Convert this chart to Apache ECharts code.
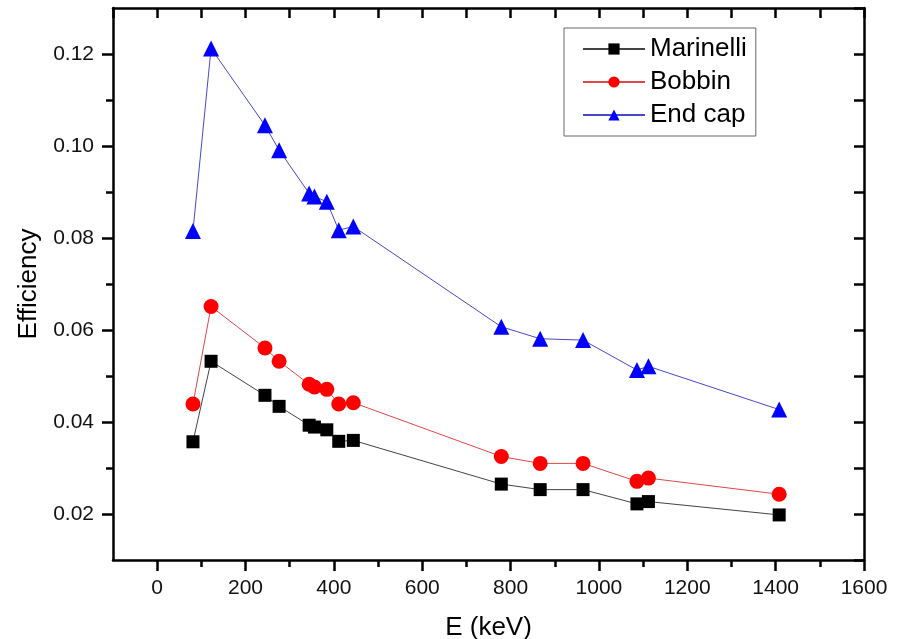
<!DOCTYPE html>
<html>
<head>
<meta charset="utf-8">
<script src="https://cdn.jsdelivr.net/npm/echarts@6/dist/echarts.min.js"></script>
<style>
  html, body { margin: 0; padding: 0; background: #fff; }
  #main { width: 900px; height: 639px; }
</style>
</head>
<body>
<div id="main"></div>
<script>
// energias de las lineas gamma (keV)
const energias = [81, 122, 244, 276, 344, 356, 384, 411, 444, 779, 867, 964, 1086, 1112, 1408];
const marinelli = [0.0357, 0.0532, 0.0458, 0.0434, 0.0393, 0.0389, 0.0383, 0.0358, 0.0360, 0.0265, 0.0253, 0.0253, 0.0222, 0.0227, 0.0198];
const bobbin = [0.0439, 0.0651, 0.0561, 0.0532, 0.0482, 0.0476, 0.0471, 0.0439, 0.0442, 0.0325, 0.0310, 0.0310, 0.0271, 0.0278, 0.0243];
const endCap = [0.0815, 0.1212, 0.1045, 0.0991, 0.0897, 0.0890, 0.0879, 0.0817, 0.0825, 0.0607, 0.0581, 0.0578, 0.0513, 0.0521, 0.0427];

const ticksX = [0, 200, 400, 600, 800, 1000, 1200, 1400, 1600];
const ticksXMenores = [100, 300, 500, 700, 900, 1100, 1300, 1500];
const ticksXTodos = [-100, 0, 100, 200, 300, 400, 500, 600, 700, 800, 900, 1000, 1100, 1200, 1300, 1400, 1500, 1600];
const ticksY = [0.02, 0.04, 0.06, 0.08, 0.10, 0.12];
const ticksYMenores = [0.03, 0.05, 0.07, 0.09, 0.11];
const ticksYTodos = [0.01, 0.02, 0.03, 0.04, 0.05, 0.06, 0.07, 0.08, 0.09, 0.10, 0.11, 0.12, 0.13];

const fuente = 'Liberation Sans, Arial, sans-serif';
const pares = (ys) => energias.map((e, i) => [e, ys[i]]);

const chart = echarts.init(document.getElementById('main'));

const lineaEje = { show: true, onZero: false, lineStyle: { color: '#000', width: 2.5 } };
const sinLinea = { show: false, onZero: false };

chart.setOption({
    animation: false,
    backgroundColor: '#fff',
    grid: { left: 113, right: 36, top: 8, bottom: 79, outerBoundsMode: 'none', containLabel: false },
    legend: {
        orient: 'vertical',
        left: 564,
        top: 28,
        padding: [8, 9, 8, 18],
        itemGap: 7,
        itemWidth: 62,
        itemHeight: 14,
        borderColor: '#666',
        borderWidth: 1,
        textStyle: { fontFamily: fuente, fontSize: 26, color: '#000' },
        data: ['Marinelli', 'Bobbin', 'End cap']
    },
    xAxis: [
        {
            type: 'value', position: 'bottom', offset: 0, min: -100, max: 1600,
            name: 'E (keV)', nameLocation: 'middle', nameGap: 55,
            nameTextStyle: { fontFamily: fuente, fontSize: 26, color: '#000' },
            axisLine: lineaEje,
            axisTick: { show: true, inside: false, length: 11, lineStyle: { color: '#000', width: 2.5 }, customValues: ticksX },
            axisLabel: { fontFamily: fuente, fontSize: 21, color: '#111', margin: 18, customValues: ticksX,
                formatter: v => String(v) },
            splitLine: { show: false }
        },
        {
            type: 'value', position: 'bottom', offset: 0, min: -100, max: 1600,
            axisLine: sinLinea,
            axisTick: { show: true, inside: false, length: 7, lineStyle: { color: '#000', width: 2.5 }, customValues: ticksXMenores },
            axisLabel: { show: false },
            splitLine: { show: false }
        },
        {
            type: 'value', position: 'top', offset: 0, min: -100, max: 1600,
            axisLine: lineaEje,
            axisTick: { show: true, inside: true, length: 10, lineStyle: { color: '#000', width: 2.5 }, customValues: ticksXTodos },
            axisLabel: { show: false },
            splitLine: { show: false }
        }
    ],
    yAxis: [
        {
            type: 'value', position: 'left', offset: 0, min: 0.01, max: 0.13,
            name: 'Efficiency', nameLocation: 'middle', nameGap: 52,
            nameTextStyle: { fontFamily: fuente, fontSize: 26, color: '#000' },
            axisLine: lineaEje,
            axisTick: { show: true, inside: false, length: 11, lineStyle: { color: '#000', width: 2.5 }, customValues: ticksY },
            axisLabel: { fontFamily: fuente, fontSize: 21, color: '#111', margin: 19, customValues: ticksY,
                formatter: v => v.toFixed(2) },
            splitLine: { show: false }
        },
        {
            type: 'value', position: 'left', offset: 0, min: 0.01, max: 0.13,
            axisLine: sinLinea,
            axisTick: { show: true, inside: false, length: 7, lineStyle: { color: '#000', width: 2.5 }, customValues: ticksYMenores },
            axisLabel: { show: false },
            splitLine: { show: false }
        },
        {
            type: 'value', position: 'right', offset: 0, min: 0.01, max: 0.13,
            axisLine: lineaEje,
            axisTick: { show: true, inside: true, length: 10, lineStyle: { color: '#000', width: 2.5 }, customValues: ticksYTodos },
            axisLabel: { show: false },
            splitLine: { show: false }
        }
    ],
    series: [
        {
            name: 'Marinelli', type: 'line', data: pares(marinelli),
            symbol: 'rect', symbolSize: 13,
            itemStyle: { color: '#000' },
            lineStyle: { color: '#444', width: 1 }
        },
        {
            name: 'Bobbin', type: 'line', data: pares(bobbin),
            symbol: 'circle', symbolSize: 15,
            itemStyle: { color: '#ff0000' },
            lineStyle: { color: '#e04848', width: 1 }
        },
        {
            name: 'End cap', type: 'line', data: pares(endCap),
            symbol: 'triangle', symbolSize: 16,
            itemStyle: { color: '#0000ff' },
            lineStyle: { color: '#4848c8', width: 1 }
        }
    ]
});
</script>
</body>
</html>
